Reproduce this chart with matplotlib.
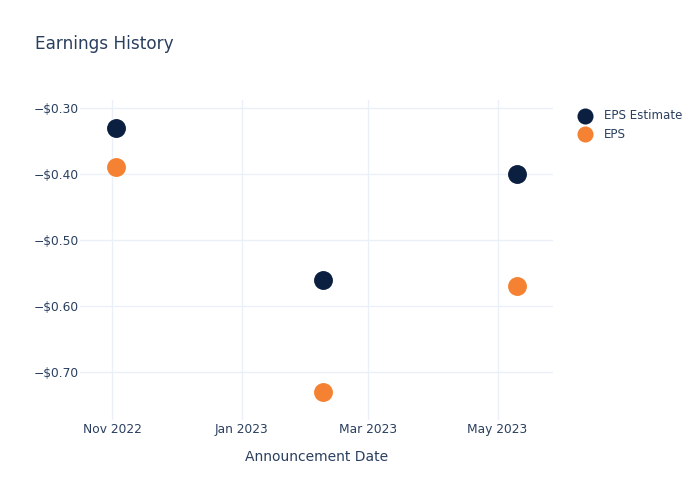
import datetime as dt
import matplotlib
matplotlib.use("Agg")
import matplotlib.pyplot as plt
import matplotlib.dates as mdates
from matplotlib.ticker import FuncFormatter

# announcement dates and eps values
dates = [dt.date(2022, 11, 3), dt.date(2023, 2, 8), dt.date(2023, 5, 10)]
eps_estimate = [-0.33, -0.56, -0.40]
eps_actual = [-0.39, -0.73, -0.57]
tick_dates = [dt.date(2022, 11, 1), dt.date(2023, 1, 1), dt.date(2023, 3, 1), dt.date(2023, 5, 1)]
y_ticks = [-0.30, -0.40, -0.50, -0.60, -0.70]

text_col = "#2a3f5f"
grid_col = "#ebf0f8"

fig = plt.figure(figsize=(7, 5), dpi=100)
ax = fig.add_axes([80/700, 80/500, 473/700, 320/500])

ax.scatter(dates, eps_estimate, s=185, color="#0b1f40", label="EPS Estimate", zorder=3, linewidths=0)
ax.scatter(dates, eps_actual, s=185, color="#f58232", label="EPS", zorder=3, linewidths=0)

ax.set_xlim(dt.date(2022, 10, 17), dt.date(2023, 5, 27))
ax.set_ylim(-0.7727, -0.2879)
ax.set_xticks(tick_dates)
ax.xaxis.set_major_formatter(mdates.DateFormatter("%b %Y"))
ax.set_yticks(y_ticks)
ax.yaxis.set_major_formatter(FuncFormatter(lambda v, p: "\u2212$%.2f" % abs(v)))

for s in ax.spines.values():
    s.set_visible(False)
ax.grid(True, color=grid_col, linewidth=1)
ax.set_axisbelow(True)
ax.tick_params(length=0, labelsize=8.8, colors=text_col)
ax.tick_params(axis="x", pad=2)
ax.tick_params(axis="y", pad=1)
ax.set_xlabel("Announcement Date", fontsize=10, color=text_col, labelpad=10)

fig.text(35/700, 1 - 44/500, "Earnings History", fontsize=12.2, color=text_col, va="center")

leg = ax.legend(loc="upper left", bbox_to_anchor=(1.02, 1.005), frameon=False,
                fontsize=8.6, handletextpad=0.6, labelspacing=0.45, markerscale=0.85)
for t in leg.get_texts():
    t.set_color(text_col)

fig.savefig("out.png", dpi=100)
